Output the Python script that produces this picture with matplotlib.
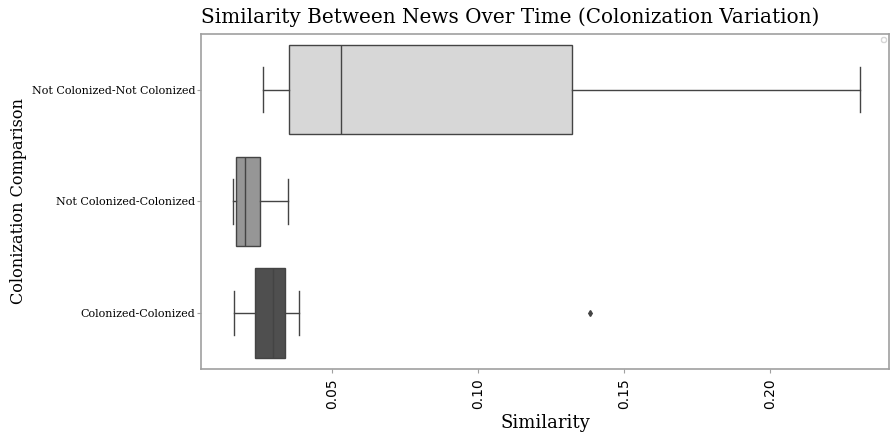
import matplotlib.pyplot as plt

# Box statistics per colonization comparison
categories = ['Not Colonized-Not Colonized', 'Not Colonized-Colonized', 'Colonized-Colonized']
whislo = [0.0264, 0.0160, 0.0165]
q1 = [0.0353, 0.0172, 0.0237]
medians = [0.0531, 0.0200, 0.0297]
q3 = [0.1322, 0.0251, 0.0337]
whishi = [0.2308, 0.0349, 0.0385]
fliers = [[], [], [0.1384]]
box_colors = ['#d7d7d7', '#969696', '#4f4f4f']

stats = []
for i, name in enumerate(categories):
    stats.append({'label': name, 'whislo': whislo[i], 'q1': q1[i], 'med': medians[i],
                  'q3': q3[i], 'whishi': whishi[i], 'fliers': fliers[i]})

fig = plt.figure(figsize=(8.9, 4.36), dpi=100)
ax = fig.add_axes([0.226, 0.154, 0.773, 0.768])

edge = '#444444'
positions = list(range(len(categories)))
bp = ax.bxp(stats, positions=positions, vert=False, widths=0.8, patch_artist=True,
            boxprops=dict(edgecolor=edge, linewidth=1.0),
            medianprops=dict(color=edge, linewidth=1.0),
            whiskerprops=dict(color=edge, linewidth=1.0),
            capprops=dict(color=edge, linewidth=1.0),
            flierprops=dict(marker='d', markersize=3, markerfacecolor=edge,
                            markeredgecolor=edge))
for patch, c in zip(bp['boxes'], box_colors):
    patch.set_facecolor(c)

ax.set_ylim(len(categories) - 0.5, -0.5)
ax.set_xlim(0.0051, 0.2408)
ax.set_yticks(positions)
ax.set_yticklabels(categories, family='DejaVu Serif', fontsize=8)
ax.set_xticks([0.05, 0.10, 0.15, 0.20])
ax.set_xticklabels(['0.05', '0.10', '0.15', '0.20'], rotation=90, fontsize=10)

for s in ax.spines.values():
    s.set_color('#a0a0a0')
    s.set_linewidth(1.2)
ax.tick_params(colors='#a0a0a0', labelcolor='black', length=3)
ax.tick_params(axis='y', pad=1)

ax.set_title('Similarity Between News Over Time (Colonization Variation)',
             family='DejaVu Serif', fontsize=14.4, loc='left', pad=8)
ax.set_xlabel('Similarity', family='DejaVu Serif', fontsize=13, labelpad=4)
ax.set_ylabel('Colonization Comparison', family='DejaVu Serif', fontsize=11.6, labelpad=4)
ax.legend(handles=[], loc='upper right', frameon=True, fontsize=5, borderpad=0.3)

fig.savefig('out.png', dpi=100)
